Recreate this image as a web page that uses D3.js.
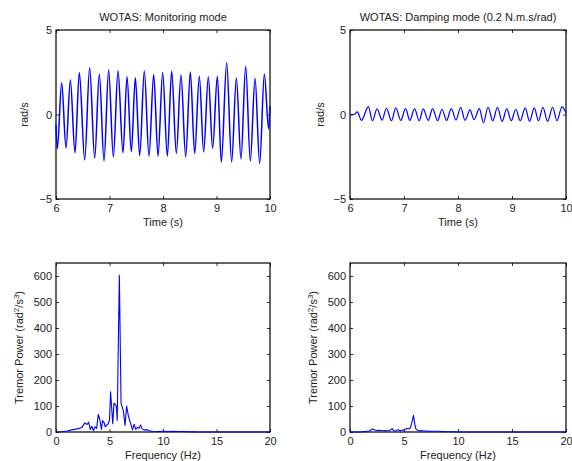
<!DOCTYPE html>
<html>
<head>
<meta charset="utf-8">
<script src="https://cdn.jsdelivr.net/npm/d3@7"></script>
<style>
  body { margin: 0; background: #fff; }
  svg { display: block; }
  text { font-family: Arial, "Liberation Sans", Helvetica, sans-serif; fill: #222; }
</style>
</head>
<body>
<svg id="chart" width="572" height="461"></svg>
<script>
// ---------- DATA ----------
// Monitoring mode: local extrema of the angular velocity trace (time s, rad/s)
const monitorT = [6.0, 6.025, 6.106, 6.187, 6.268, 6.355, 6.436, 6.536, 6.629, 6.723, 6.810, 6.897, 6.984, 7.072, 7.159, 7.252, 7.327, 7.408, 7.483, 7.564, 7.651, 7.738, 7.826, 7.907, 7.994, 8.081, 8.162, 8.249, 8.336, 8.424, 8.511, 8.592, 8.679, 8.760, 8.847, 8.928, 9.016, 9.090, 9.190, 9.283, 9.371, 9.458, 9.545, 9.632, 9.720, 9.807, 9.894, 9.975, 10.0];
const monitorV = [-0.6, -2.02, 1.88, -1.98, 2.04, -2.27, 2.49, -2.69, 2.76, -2.59, 2.39, -2.75, 2.63, -2.51, 2.59, -2.27, 2.24, -2.20, 2.18, -2.43, 2.57, -2.47, 2.37, -2.47, 2.49, -2.47, 2.57, -2.29, 2.33, -2.51, 2.51, -2.31, 2.27, -2.22, 2.22, -2.00, 2.27, -2.82, 3.06, -2.82, 2.16, -2.63, 2.86, -2.75, 2.14, -2.90, 2.39, -0.86, 0.5];

// Damping mode (0.2 N.m.s/rad): local extrema of the trace
const dampT = [6.0, 6.08, 6.136, 6.211, 6.341, 6.415, 6.502, 6.594, 6.675, 6.768, 6.848, 6.941, 7.028, 7.108, 7.195, 7.282, 7.356, 7.449, 7.529, 7.622, 7.703, 7.789, 7.876, 7.963, 8.050, 8.130, 8.223, 8.297, 8.396, 8.471, 8.557, 8.644, 8.731, 8.817, 8.904, 8.985, 9.071, 9.152, 9.245, 9.325, 9.412, 9.492, 9.573, 9.659, 9.752, 9.833, 9.926, 10.0];
const dampV = [0, 0, 0.15, -0.35, 0.47, -0.37, 0.33, -0.33, 0.37, -0.37, 0.39, -0.35, 0.35, -0.35, 0.35, -0.37, 0.33, -0.35, 0.35, -0.37, 0.31, -0.35, 0.35, -0.33, 0.43, -0.35, 0.27, -0.31, 0.35, -0.49, 0.43, -0.37, 0.43, -0.41, 0.35, -0.37, 0.31, -0.37, 0.39, -0.41, 0.39, -0.37, 0.43, -0.41, 0.43, -0.37, 0.47, 0.08];

// Tremor power spectra (Hz, rad^2/s^3)
const specFreqMon = [0, 0.5, 1.0, 1.6, 2.1, 2.4, 2.7, 2.9, 3.05, 3.2, 3.35, 3.5, 3.65, 3.8, 3.95, 4.1, 4.25, 4.35, 4.5, 4.6, 4.75, 4.85, 5.0, 5.1, 5.2, 5.3, 5.42, 5.55, 5.65, 5.72, 5.92, 6.08, 6.2, 6.3, 6.45, 6.6, 6.75, 6.9, 7.0, 7.15, 7.3, 7.45, 7.6, 7.75, 7.9, 8.05, 8.25, 8.5, 8.7, 9.0, 9.5, 10, 10.5, 11, 11.5, 12, 12.5, 13, 20];
const specMon = [0, 1, 4, 9, 13, 17, 35, 29, 38, 10, 22, 6, 20, 14, 68, 47, 10, 44, 36, 20, 28, 30, 45, 155, 95, 32, 111, 105, 96, 45, 603, 110, 95, 80, 25, 100, 65, 42, 30, 8, 30, 10, 18, 14, 27, 12, 8, 9, 5, 3, 2, 3, 2, 3, 2, 2, 1, 0.5, 0];

const specFreqDamp = [0, 1.0, 1.5, 1.8, 2.1, 2.25, 2.45, 2.7, 3.0, 3.3, 3.5, 3.75, 3.9, 4.05, 4.2, 4.45, 4.6, 4.8, 5.0, 5.2, 5.4, 5.6, 5.75, 5.88, 6.0, 6.1, 6.3, 6.6, 6.8, 7.1, 7.5, 8.0, 8.5, 9.0, 9.5, 10, 20];
const specDamp = [0, 0, 3, 4, 12, 9, 6, 7, 5, 6, 4, 8, 13, 5, 4, 9, 5, 7, 8, 13, 12, 16, 40, 64, 30, 12, 5, 6, 4, 4, 3, 3, 2, 1, 1, 0, 0];

// Tick labels
const timeTicks = [6, 7, 8, 9, 10];
const velTicks = [-5, 0, 5];
const freqTicks = [0, 5, 10, 15, 20];
const powerTicks = [0, 100, 200, 300, 400, 500, 600];

const titles = ["WOTAS: Monitoring mode", "WOTAS: Damping mode (0.2 N.m.s/rad)"];

// ---------- DRAW ----------
const svg = d3.select("#chart");
const LINE = "#0000ff";
const FS = 11;

function panel(opts) {
  const {x0, x1, y0, y1, xDomain, yDomain, xTicks, yTicks, xs, ys, curve, title, xlabel, ylabel, ylabelX, lw} = opts;
  const g = svg.append("g");
  const x = d3.scaleLinear().domain(xDomain).range([x0, x1]);
  const y = d3.scaleLinear().domain(yDomain).range([y1, y0]);
  const tl = 3;

  // axes (MATLAB style: inward ticks on all four sides)
  const bottom = g.append("g").attr("transform", `translate(0,${y1})`)
    .call(d3.axisBottom(x).tickValues(xTicks).tickSize(-tl).tickPadding(5).tickFormat(d3.format("d")));
  const top = g.append("g").attr("transform", `translate(0,${y0})`)
    .call(d3.axisTop(x).tickValues(xTicks).tickSize(-tl).tickFormat(""));
  const left = g.append("g").attr("transform", `translate(${x0},0)`)
    .call(d3.axisLeft(y).tickValues(yTicks).tickSize(-tl).tickPadding(4).tickFormat(d => d < 0 ? "\u2212" + Math.abs(d) : d));
  const right = g.append("g").attr("transform", `translate(${x1},0)`)
    .call(d3.axisRight(y).tickValues(yTicks).tickSize(-tl).tickFormat(""));
  [bottom, top, left, right].forEach(a => {
    a.select(".domain").remove();
    a.selectAll(".tick line").attr("stroke", "#000").attr("stroke-width", 0.8);
    a.selectAll("text").attr("font-size", FS).attr("fill", "#222")
      .style("font-family", "Arial, 'Liberation Sans', sans-serif");
  });
  bottom.selectAll("text").attr("dy", "0.71em");

  // box
  g.append("rect").attr("x", x0).attr("y", y0).attr("width", x1 - x0).attr("height", y1 - y0)
    .attr("fill", "none").attr("stroke", "#000").attr("stroke-width", 1.2);

  // data line
  const pts = xs.map((d, i) => [d, ys[i]]);
  g.append("path")
    .datum(pts)
    .attr("fill", "none")
    .attr("stroke", LINE)
    .attr("stroke-width", lw)
    .attr("stroke-linejoin", "round")
    .attr("d", d3.line().x(d => x(d[0])).y(d => y(d[1])).curve(curve));

  if (title) {
    g.append("text").attr("x", (x0 + x1) / 2).attr("y", y0 - 9)
      .attr("text-anchor", "middle").attr("font-size", FS).text(title);
  }
  g.append("text").attr("x", (x0 + x1) / 2).attr("y", y1 + 27)
    .attr("text-anchor", "middle").attr("font-size", FS).text(xlabel);

  const yl = g.append("text")
    .attr("transform", `translate(${ylabelX},${(y0 + y1) / 2}) rotate(-90)`)
    .attr("text-anchor", "middle").attr("font-size", FS);
  if (Array.isArray(ylabel)) {
    ylabel.forEach(part => {
      const t = yl.append("tspan").text(part.t);
      if (part.sup) t.attr("baseline-shift", "super").attr("font-size", 8);
    });
  } else {
    yl.text(ylabel);
  }
}

const powerLabel = [{t: "Tremor Power (rad"}, {t: "2", sup: true}, {t: "/s"}, {t: "3", sup: true}, {t: ")"}];

panel({x0: 56, x1: 270, y0: 30, y1: 199, xDomain: [6, 10], yDomain: [-5, 5],
  xTicks: timeTicks, yTicks: velTicks, xs: monitorT, ys: monitorV, curve: d3.curveMonotoneX,
  title: titles[0], xlabel: "Time (s)", ylabel: "rad/s", ylabelX: 28, lw: 1.5});
panel({x0: 350, x1: 566, y0: 30, y1: 199, xDomain: [6, 10], yDomain: [-5, 5],
  xTicks: timeTicks, yTicks: velTicks, xs: dampT, ys: dampV, curve: d3.curveMonotoneX,
  title: titles[1], xlabel: "Time (s)", ylabel: "rad/s", ylabelX: 324, lw: 1.2});
panel({x0: 56, x1: 270, y0: 263, y1: 432, xDomain: [0, 20], yDomain: [0, 650],
  xTicks: freqTicks, yTicks: powerTicks, xs: specFreqMon, ys: specMon, curve: d3.curveLinear,
  title: null, xlabel: "Frequency (Hz)", ylabel: powerLabel, ylabelX: 23, lw: 1.1});
panel({x0: 350, x1: 566, y0: 263, y1: 432, xDomain: [0, 20], yDomain: [0, 650],
  xTicks: freqTicks, yTicks: powerTicks, xs: specFreqDamp, ys: specDamp, curve: d3.curveLinear,
  title: null, xlabel: "Frequency (Hz)", ylabel: powerLabel, ylabelX: 317, lw: 1.1});
</script>
</body>
</html>
